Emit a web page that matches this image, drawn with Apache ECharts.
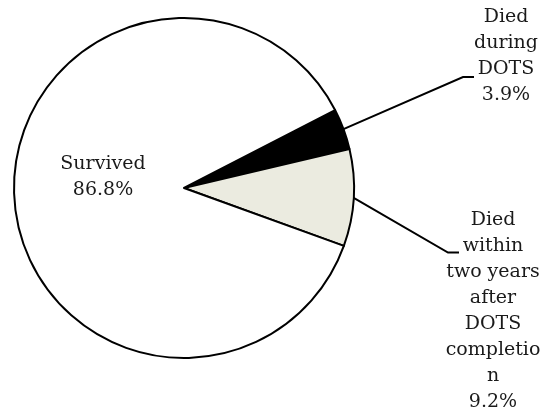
<!DOCTYPE html>
<html><head><meta charset="utf-8">
<script src="https://cdn.jsdelivr.net/npm/echarts@6/dist/echarts.min.js"></script>
<style>html,body{margin:0;padding:0;background:#fff}#c{width:542px;height:412px}</style>
</head><body><div id="c"></div>
<script>
const categories = ['Died during DOTS', 'Died within two years after DOTS completion', 'Survived'];
const values = [3.9, 9.2, 86.8];
const labelWords = [
  ['Died', 'during', 'DOTS'],
  ['Died', 'within', 'two years', 'after', 'DOTS', 'completio', 'n'],
  ['Survived']
];
const sliceColors = ['#000000', '#ebebe0', '#ffffff'];
const labelSpots = [
  {x: 506, y: 4, elbow: [463, 77], end: [474, 77]},
  {x: 493, y: 207.5, elbow: [448, 252.5], end: [459, 252.5]},
  {x: 103, y: 177}
];
const chart = echarts.init(document.getElementById('c'), null, {renderer: 'canvas'});
chart.setOption({
  animation: false,
  series: [{
    type: 'pie',
    center: [184, 188],
    radius: 170,
    startAngle: 27.3,
    clockwise: true,
    avoidLabelOverlap: false,
    emphasis: {scale: false},
    itemStyle: {borderColor: '#000', borderWidth: 2},
    label: {
      show: true, position: 'outside',
      fontFamily: 'DejaVu Serif', fontSize: 19, lineHeight: 26, color: '#1a1a1a',
      formatter: p => labelWords[p.dataIndex].concat(p.value.toFixed(1) + '%').join('\n')
    },
    labelLine: {show: true, lineStyle: {color: '#000', width: 2}},
    labelLayout: function (params) {
      const s = labelSpots[params.dataIndex];
      const out = {x: s.x, y: s.y, align: 'center', verticalAlign: params.dataIndex === 2 ? 'middle' : 'top'};
      if (s.elbow && params.labelLinePoints) {
        out.labelLinePoints = [params.labelLinePoints[0], s.elbow, s.end];
      }
      return out;
    },
    data: categories.map((n, i) => ({
      name: n, value: values[i],
      itemStyle: {color: sliceColors[i]},
      label: i === 2 ? {position: 'inside'} : undefined,
      labelLine: i === 2 ? {show: false} : undefined
    }))
  }]
});
</script>
</body></html>
